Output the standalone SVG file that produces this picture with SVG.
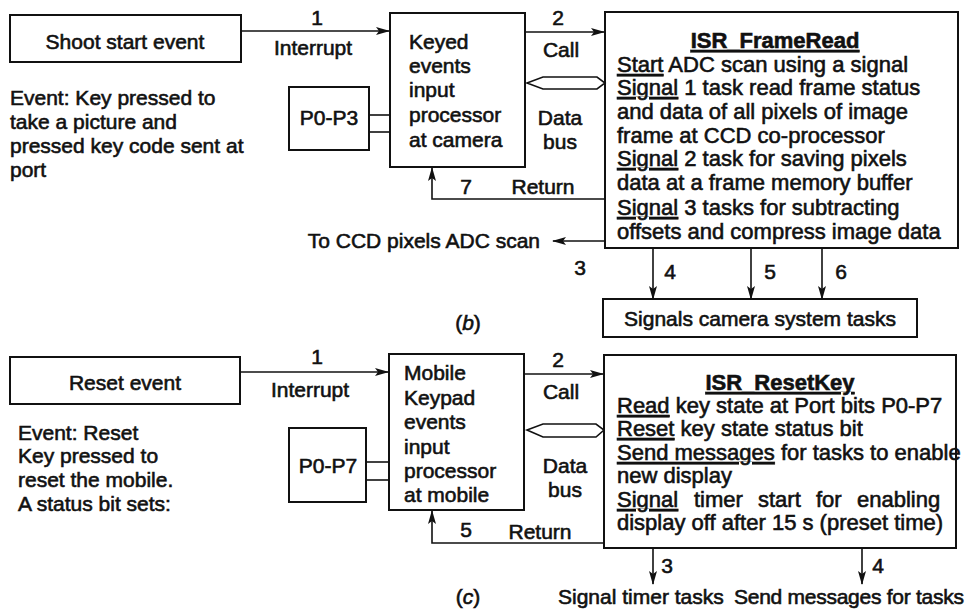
<svg xmlns="http://www.w3.org/2000/svg" width="971" height="614" viewBox="0 0 971 614">
<defs>
<style>
text{font-family:"Liberation Sans",Arial,sans-serif;font-size:21px;fill:#111;stroke:#111;stroke-width:0.6}
.isr{font-size:22px}
.t{font-weight:bold;text-decoration:underline}
.u{text-decoration:underline}
.c{text-anchor:middle}
.box{fill:none;stroke:#111;stroke-width:2}
.ln{fill:none;stroke:#111;stroke-width:1.6}
.hex{fill:#fff;stroke:#111;stroke-width:1.6}
</style>
<marker id="ah" markerWidth="14" markerHeight="10" refX="13" refY="5" orient="auto" markerUnits="userSpaceOnUse">
<path d="M0,1 L14,5 L0,9 L3,5 z" fill="#111"/>
</marker>
</defs>
<rect width="971" height="614" fill="#fff"/>

<!-- (b) -->
<g id="shoot"><rect class="box" x="10" y="15" width="231" height="47"/><text class="c" x="125" y="49">Shoot start event</text></g>
<g id="event-b">
<text x="10" y="105">Event: Key pressed to</text>
<text x="10" y="129">take a picture and</text>
<text x="10" y="153">pressed key code sent at</text>
<text x="10" y="177">port</text>
</g>
<g id="keyed"><rect class="box" x="390" y="13" width="135" height="154"/>
<text x="409" y="49">Keyed</text><text x="409" y="73">events</text><text x="409" y="97">input</text><text x="409" y="122">processor</text><text x="409" y="147">at camera</text></g>
<g id="p0p3"><rect class="box" x="289" y="87" width="80" height="63"/><text class="c" x="329" y="125">P0-P3</text></g>
<g id="isr-frameread"><rect class="box" x="605" y="12" width="353" height="236"/>
<text class="c isr" x="775" y="48"><tspan class="t">ISR_FrameRead</tspan></text>
<text class="isr" x="617" y="72"><tspan class="u">Start</tspan> ADC scan using a signal</text>
<text class="isr" x="617" y="95"><tspan class="u">Signal</tspan> 1 task read frame status</text>
<text class="isr" x="617" y="119">and data of all pixels of image</text>
<text class="isr" x="617" y="143">frame at CCD co-processor</text>
<text class="isr" x="617" y="166"><tspan class="u">Signal</tspan> 2 task for saving pixels</text>
<text class="isr" x="617" y="190">data  at a frame memory buffer</text>
<text class="isr" x="617" y="215"><tspan class="u">Signal</tspan> 3 tasks for subtracting</text>
<text class="isr" x="617" y="239">offsets and compress image data</text>
</g>
<g id="signals-cam"><rect class="box" x="603" y="299" width="314" height="38"/><text class="c" x="760" y="326">Signals camera system tasks</text></g>
<g id="ccd"><text x="540" y="248" text-anchor="end">To CCD pixels ADC scan</text></g>
<text class="c" x="468" y="330">(<tspan font-style="italic">b</tspan>)</text>

<!-- (c) -->
<g id="reset"><rect class="box" x="10" y="357" width="230" height="47"/><text class="c" x="125" y="390">Reset event</text></g>
<g id="event-c">
<text x="18" y="440">Event: Reset</text>
<text x="18" y="463">Key pressed to</text>
<text x="18" y="487">reset the mobile.</text>
<text x="18" y="511">A status bit sets:</text>
</g>
<g id="mobile"><rect class="box" x="389" y="354" width="135" height="156"/>
<text x="404" y="380">Mobile</text><text x="404" y="405">Keypad</text><text x="404" y="429">events</text><text x="404" y="454">input</text><text x="404" y="478">processor</text><text x="404" y="502">at mobile</text></g>
<g id="p0p7"><rect class="box" x="289" y="428" width="77" height="74"/><text class="c" x="328" y="473">P0-P7</text></g>
<g id="isr-resetkey"><rect class="box" x="604" y="355" width="352" height="193"/>
<text class="c isr" x="780" y="390"><tspan class="t">ISR_ResetKey</tspan></text>
<text class="isr" x="617" y="413"><tspan class="u">Read</tspan> key state at Port bits P0-P7</text>
<text class="isr" x="617" y="436"><tspan class="u">Reset</tspan> key state status bit</text>
<text class="isr" x="617" y="460"><tspan class="u">Send messages</tspan> for tasks to enable</text>
<text class="isr" x="617" y="483">new display</text>
<text class="isr" y="507"><tspan class="u" x="617">Signal</tspan><tspan x="694">timer</tspan><tspan x="758">start</tspan><tspan x="816">for</tspan><tspan x="857">enabling</tspan></text>
<text class="isr" x="617" y="530">display off after 15 s (preset time)</text>
</g>
<g id="timer-tasks"><text x="558" y="604">Signal timer tasks</text></g>
<g id="send-tasks"><text x="734" y="604" textLength="230" lengthAdjust="spacing">Send messages for tasks</text></g>
<text class="c" x="468" y="604">(<tspan font-style="italic">c</tspan>)</text>

<g id="connectors">
<!-- b -->
<line class="ln" x1="241" y1="31" x2="389" y2="31" marker-end="url(#ah)"/>
<text class="c" x="317" y="25">1</text><text class="c" x="313" y="55">Interrupt</text>
<line class="ln" x1="369" y1="115" x2="390" y2="115"/><line class="ln" x1="369" y1="132" x2="390" y2="132"/>
<line class="ln" x1="525" y1="32" x2="604" y2="32" marker-end="url(#ah)"/>
<text class="c" x="558" y="25">2</text><text class="c" x="561" y="57">Call</text>
<polygon class="hex" points="527,83 543,77 597,77 605,83 597,89 543,89"/>
<text class="c" x="560" y="125">Data</text><text class="c" x="560" y="149">bus</text>
<polyline class="ln" points="605,199 432,199 432,168" marker-end="url(#ah)"/>
<text class="c" x="466" y="194">7</text><text class="c" x="543" y="194">Return</text>
<line class="ln" x1="605" y1="241" x2="553" y2="241" marker-end="url(#ah)"/>
<text class="c" x="580" y="275">3</text>
<line class="ln" x1="653" y1="248" x2="653" y2="299" marker-end="url(#ah)"/>
<line class="ln" x1="751" y1="248" x2="751" y2="299" marker-end="url(#ah)"/>
<line class="ln" x1="822" y1="248" x2="822" y2="299" marker-end="url(#ah)"/>
<text class="c" x="670" y="279">4</text><text class="c" x="770" y="279">5</text><text class="c" x="841" y="279">6</text>
<!-- c -->
<line class="ln" x1="240" y1="372" x2="388" y2="372" marker-end="url(#ah)"/>
<text class="c" x="317" y="364">1</text><text class="c" x="310" y="397">Interrupt</text>
<line class="ln" x1="366" y1="462" x2="389" y2="462"/><line class="ln" x1="366" y1="480" x2="389" y2="480"/>
<line class="ln" x1="524" y1="374" x2="603" y2="374" marker-end="url(#ah)"/>
<text class="c" x="558" y="367">2</text><text class="c" x="561" y="399">Call</text>
<polygon class="hex" points="527,430 543,424 596,424 604,430 596,437 543,437"/>
<text class="c" x="565" y="473">Data</text><text class="c" x="565" y="497">bus</text>
<polyline class="ln" points="604,543 432,543 432,511" marker-end="url(#ah)"/>
<text class="c" x="466" y="537">5</text><text class="c" x="540" y="539">Return</text>
<line class="ln" x1="653" y1="548" x2="653" y2="584" marker-end="url(#ah)"/>
<line class="ln" x1="862" y1="548" x2="862" y2="584" marker-end="url(#ah)"/>
<text class="c" x="667" y="573">3</text><text class="c" x="878" y="573">4</text>
</g>
</svg>
